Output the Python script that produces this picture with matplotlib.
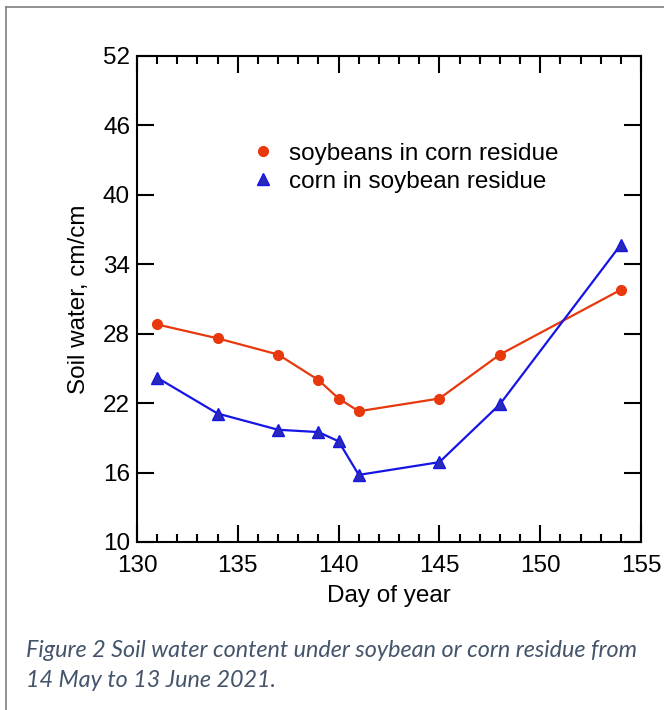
import matplotlib.pyplot as plt
from matplotlib.lines import Line2D
from matplotlib.ticker import MultipleLocator

plt.rcParams['font.family'] = ['Liberation Sans', 'DejaVu Sans']

# day of year and soil water readings (cm/cm)
days = [131, 134, 137, 139, 140, 141, 145, 148, 154]
soy_in_corn = [28.8, 27.6, 26.2, 24.0, 22.4, 21.3, 22.4, 26.2, 31.8]
corn_in_soy = [24.2, 21.1, 19.7, 19.5, 18.7, 15.8, 16.9, 21.9, 35.7]

series_labels = ['soybeans in corn residue', 'corn in soybean residue']
y_ticks = [10, 16, 22, 28, 34, 40, 46, 52]
caption = ('Figure 2 Soil water content under soybean or corn residue from\n'
           '14 May to 13 June 2021.')

red = '#e8380d'
blue = '#1515e6'

fig = plt.figure(figsize=(6.64, 7.10), dpi=100)
ax = fig.add_axes([137 / 664, 1 - 542 / 710, 504 / 664, 486 / 710])

ax.plot(days, soy_in_corn, color=red, marker='o', markersize=7,
        linewidth=1.6)
ax.plot(days, corn_in_soy, color=blue, marker='^', markersize=8,
        markerfacecolor='#2a2ab8', markeredgecolor=blue, linewidth=1.6)

ax.set_xlim(130, 155)
ax.set_ylim(10, 52)
ax.xaxis.set_major_locator(MultipleLocator(5))
ax.xaxis.set_minor_locator(MultipleLocator(1))
ax.set_yticks(y_ticks)

ax.tick_params(which='both', direction='in', top=True, right=True,
               width=1.5, labelsize=17.5)
ax.tick_params(axis='x', pad=9)
ax.tick_params(axis='y', pad=5)
ax.tick_params(which='major', length=12)
ax.tick_params(which='minor', length=6)
for s in ax.spines.values():
    s.set_linewidth(1.5)

ax.set_xlabel('Day of year', fontsize=17.5, labelpad=6)
ax.set_ylabel('Soil water, cm/cm', fontsize=17.5, labelpad=9)

# legend shows markers only
handles = [
    Line2D([], [], linestyle='none', marker='o', markersize=7, color=red),
    Line2D([], [], linestyle='none', marker='^', markersize=8,
           markerfacecolor='#2a2ab8', markeredgecolor=blue),
]
ax.legend(handles, series_labels, loc='upper left',
          bbox_to_anchor=(0.206, 0.842), frameon=False, fontsize=17.5,
          handlelength=1.0, handletextpad=0.6, labelspacing=0.25,
          borderaxespad=0)

fig.text(26 / 664, 1 - 640 / 710, caption, fontsize=16.8, style='italic',
         family='Lato', color='#44546a', va='top', ha='left',
         linespacing=1.55)

# page frame
fig.add_artist(Line2D([6 / 664, 6 / 664], [0, 1 - 7 / 710],
                      transform=fig.transFigure, color='#7f7f7f', lw=1.2))
fig.add_artist(Line2D([6 / 664, 1], [1 - 7 / 710, 1 - 7 / 710],
                      transform=fig.transFigure, color='#7f7f7f', lw=1.2))

fig.savefig('out.png', dpi=100)
